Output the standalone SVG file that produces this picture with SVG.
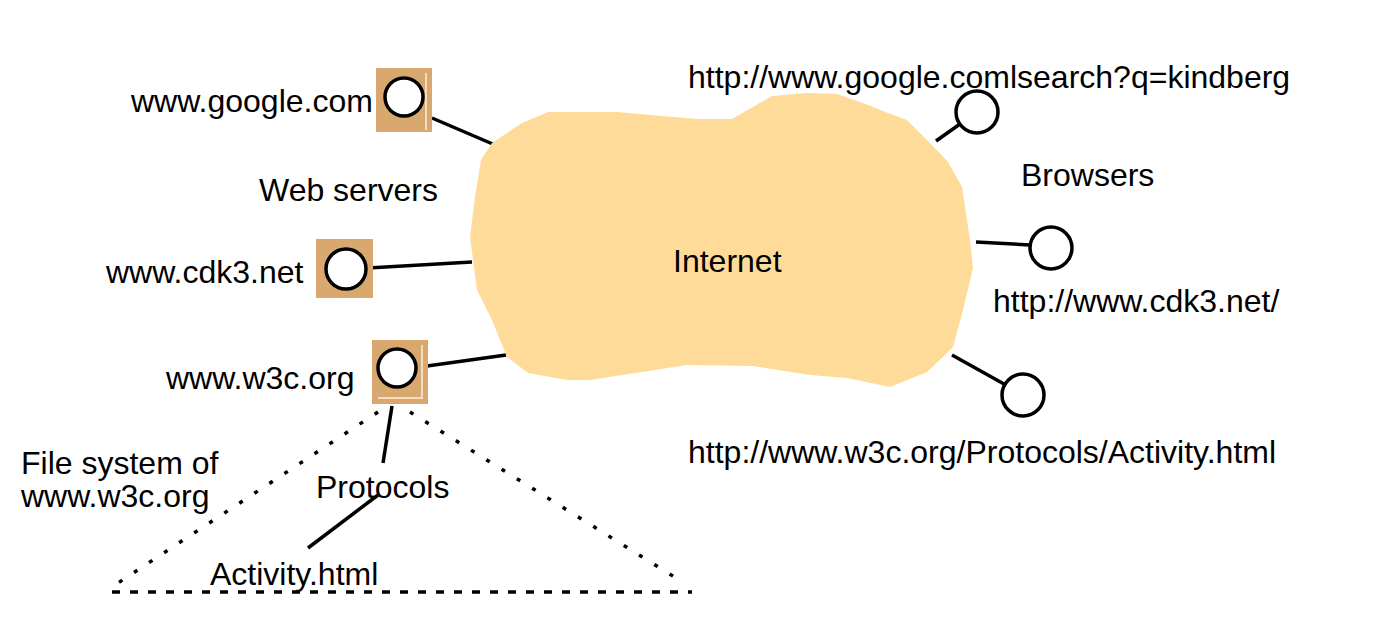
<svg xmlns="http://www.w3.org/2000/svg" width="1375" height="639" viewBox="0 0 1375 639">
<style>
text{font-family:"Liberation Sans",Arial,sans-serif;font-size:32px;fill:#000}
.srv{fill:#D8A86E}
.hl{stroke:#F3DCC0;stroke-width:2;fill:none}
.port{fill:#fff;stroke:#000;stroke-width:3.5}
.ln{stroke:#000;stroke-width:3.5;fill:none}
.dot{stroke:#000;stroke-width:3.5;fill:none;stroke-dasharray:4 14}
.dash{stroke:#000;stroke-width:3.5;fill:none;stroke-dasharray:8 10}
</style>
<rect width="1375" height="639" fill="#fff"/>
<g id="connectors">
<line class="ln" x1="432" y1="118" x2="495" y2="145"/>
<line class="ln" x1="368" y1="268" x2="472" y2="262"/>
<line class="ln" x1="420" y1="367" x2="506" y2="355"/>
<line class="ln" x1="936" y1="141" x2="960" y2="124"/>
<line class="ln" x1="976" y1="242" x2="1030" y2="245"/>
<line class="ln" x1="952" y1="355" x2="1004" y2="384"/>
<line class="ln" x1="392" y1="406" x2="383" y2="463"/>
<line class="ln" x1="378" y1="495" x2="308" y2="548"/>
</g>
<g id="internet">
<polygon fill="#FFDB99" points="548,112 617,112 697,119 732,119 772,96 807,93 837,94 863,103 888,113 907,120 930,143 948,162 962,187 970,240 973,268 963,310 953,347 945,355 927,372 890,387 847,378 810,375 753,366 687,365 590,380 567,380 528,373 507,357 492,320 477,290 470,237 475,197 481,160 492,143 522,123"/>
<text x="673" y="272">Internet</text>
</g>
<g id="google-server">
<rect class="srv" x="376" y="68" width="56" height="64"/>
<line class="hl" x1="426" y1="73" x2="426" y2="130"/>
<circle class="port" cx="404" cy="97" r="19"/>
<text x="131" y="112">www.google.com</text>
</g>
<g id="cdk3-server">
<rect class="srv" x="316" y="239" width="57" height="59"/>
<circle class="port" cx="346" cy="269" r="20"/>
<text x="106" y="283">www.cdk3.net</text>
</g>
<g id="w3c-server">
<rect class="srv" x="372" y="340" width="56" height="64"/>
<polyline class="hl" points="422,345 422,398 378,398"/>
<circle class="port" cx="397" cy="368" r="19"/>
<text x="166" y="389">www.w3c.org</text>
</g>
<g id="web-servers-label"><text x="259" y="201">Web servers</text></g>
<g id="browser-google">
<circle class="port" cx="977" cy="112" r="21"/>
<text x="688" y="88">http://www.google.comlsearch?q=kindberg</text>
</g>
<g id="browsers-label"><text x="1021" y="186">Browsers</text></g>
<g id="browser-cdk3">
<circle class="port" cx="1051" cy="248" r="21"/>
<text x="993" y="312">http://www.cdk3.net/</text>
</g>
<g id="browser-w3c">
<circle class="port" cx="1023" cy="395" r="21"/>
<text x="688" y="463">http://www.w3c.org/Protocols/Activity.html</text>
</g>
<g id="filesystem">
<line class="dot" x1="378" y1="412" x2="118" y2="583"/>
<line class="dot" x1="410" y1="412" x2="684" y2="583"/>
<line class="dash" x1="112" y1="592" x2="692" y2="592"/>
<text x="21" y="474">File system of</text>
<text x="21" y="507">www.w3c.org</text>
</g>
<g id="protocols"><text x="316" y="498">Protocols</text></g>
<g id="activity"><text x="210" y="585">Activity.html</text></g>
</svg>
